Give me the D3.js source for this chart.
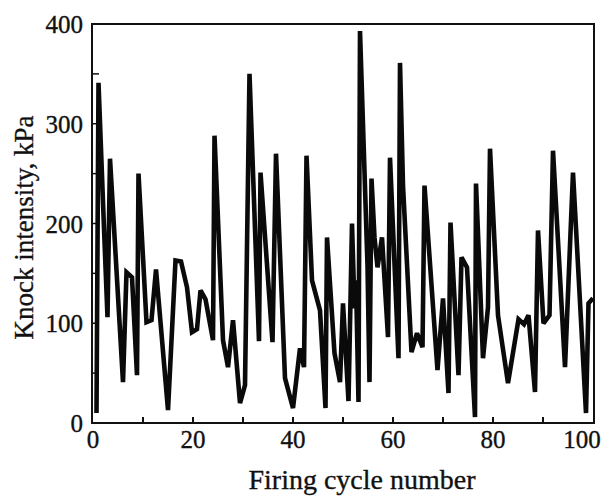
<!DOCTYPE html>
<html>
<head>
<meta charset="utf-8">
<script src="https://cdn.jsdelivr.net/npm/d3@7"></script>
<style>
  html, body { margin: 0; padding: 0; background: #fff; }
  svg { display: block; }
  text { font-family: "Liberation Serif", "DejaVu Serif", serif; fill: #111; stroke: #111; stroke-width: 0.35; }
</style>
</head>
<body>
<svg id="chart" width="609" height="496"></svg>
<script>
// Knock intensity recorded for successive firing cycles
const cycles = [0.7, 1.1, 2.2, 2.9, 3.4, 6.0, 6.7, 7.8, 8.8, 9.1,
  10.7, 11.7, 12.6, 15.0, 16.5, 17.6, 18.8, 19.8, 20.8, 21.5,
  22.5, 24.0, 24.3, 26.0, 27.0, 28.0, 29.4, 30.4, 31.3, 33.2,
  33.5, 35.9, 36.6, 38.4, 40.0, 41.4, 42.2, 42.7, 43.8, 45.4,
  46.5, 46.8, 48.3, 49.4, 50.0, 51.1, 51.8, 52.3, 52.6, 53.1,
  53.4, 54.9, 55.3, 55.7, 56.3, 56.9, 57.8, 59.0, 59.4, 61.1,
  61.4, 62.0, 63.7, 64.8, 65.9, 66.3, 68.9, 70.0, 71.1, 71.5,
  73.1, 73.7, 74.8, 76.4, 76.6, 78.0, 79.0, 79.4, 81.0, 83.0,
  85.1, 86.2, 87.1, 88.4, 89.0, 90.1, 91.3, 92.0, 94.4, 96.0,
  98.6, 99.1, 100.0];
const intensity = [10, 341, 195, 106, 265, 41, 151, 146, 48, 250,
  101, 103, 154, 13, 163, 162, 136, 91, 94, 133,
  124, 83, 288, 83, 56, 103, 20, 38, 350, 82,
  251, 81, 270, 45, 15, 75, 56, 268, 143, 113,
  15, 186, 70, 41, 120, 22, 200, 115, 143, 21,
  393, 158, 41, 245, 186, 156, 186, 86, 266, 65,
  361, 238, 71, 90, 76, 238, 53, 125, 30, 201,
  48, 166, 156, 6, 240, 65, 116, 275, 108, 40,
  104, 99, 108, 31, 193, 100, 108, 273, 56, 251,
  10, 120, 125];

const xTickLabels = [0, 20, 40, 60, 80, 100];
const yTickLabels = [0, 100, 200, 300, 400];
const xMinorTicks = d3.range(10, 100, 10);
const yMinorTicks = d3.range(50, 400, 50);

const svg = d3.select("#chart");
const plotLeft = 93, plotRight = 593, plotTop = 24, plotBottom = 423;

const x = d3.scaleLinear().domain([0, 100]).range([plotLeft, plotRight]);
const y = d3.scaleLinear().domain([0, 400]).range([plotBottom, plotTop]);

// plot frame
svg.append("rect")
  .attr("x", x(0) - 1).attr("y", y(400))
  .attr("width", x(100) - x(0) + 2).attr("height", y(0) - y(400))
  .attr("fill", "none").attr("stroke", "#111").attr("stroke-width", 2);

// inward ticks on the left and bottom edges
svg.append("g").selectAll("line").data(yMinorTicks).join("line")
  .attr("x1", x(0)).attr("x2", x(0) + 6)
  .attr("y1", d => y(d)).attr("y2", d => y(d))
  .attr("stroke", "#111").attr("stroke-width", 1.5);
svg.append("g").selectAll("line").data(xMinorTicks).join("line")
  .attr("x1", d => x(d)).attr("x2", d => x(d))
  .attr("y1", y(0)).attr("y2", y(0) - 6)
  .attr("stroke", "#111").attr("stroke-width", 2);

// tick labels
svg.append("g").selectAll("text").data(yTickLabels).join("text")
  .attr("x", x(0) - 10).attr("y", d => y(d) + 9)
  .attr("text-anchor", "end").attr("font-size", 25)
  .text(d => d);
svg.append("g").selectAll("text").data(xTickLabels).join("text")
  .attr("x", d => x(d) + (d === 100 ? -11 : 0)).attr("y", y(0) + 25)
  .attr("text-anchor", "middle").attr("font-size", 25)
  .text(d => d);

// axis titles
svg.append("text")
  .attr("transform", `translate(33,${(plotTop + plotBottom) / 2 + 4}) rotate(-90)`)
  .attr("text-anchor", "middle").attr("font-size", 27)
  .text("Knock intensity, kPa");
svg.append("text")
  .attr("x", 362).attr("y", 489)
  .attr("text-anchor", "middle").attr("font-size", 28)
  .text("Firing cycle number");

// the cycle-by-cycle trace
const line = d3.line()
  .x((d, i) => x(cycles[i]))
  .y(d => y(d));
svg.append("path")
  .datum(intensity)
  .attr("d", line)
  .attr("fill", "none")
  .attr("stroke", "#0a0a0a")
  .attr("stroke-width", 4.6)
  .attr("stroke-linejoin", "miter")
  .attr("stroke-miterlimit", 2.5);
</script>
</body>
</html>
